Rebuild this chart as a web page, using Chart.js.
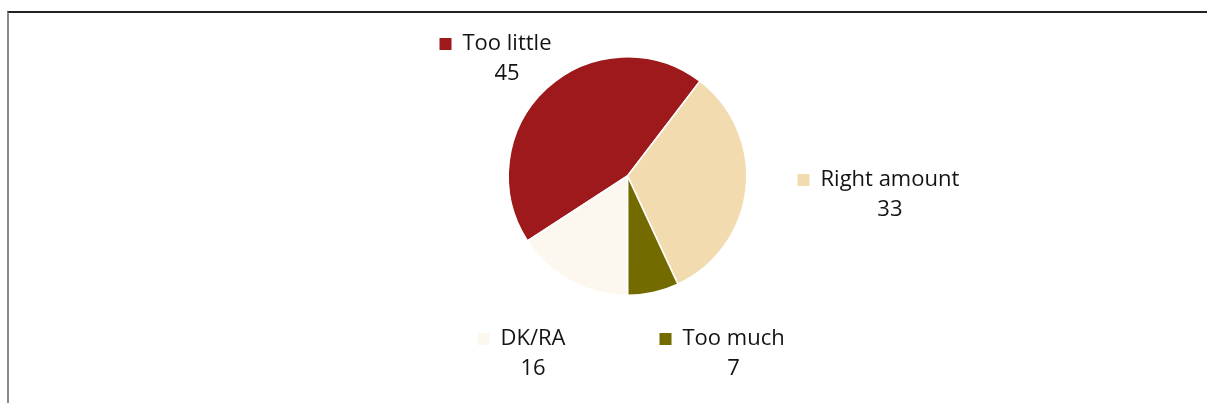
<!DOCTYPE html>
<html>
<head>
<meta charset="utf-8">
<script src="https://cdn.jsdelivr.net/npm/chart.js@4"></script>
<style>
    html, body { margin: 0; padding: 0; background: #fff; }
    #wrap { position: relative; width: 1207px; height: 403px; overflow: hidden; }
    /* khung viền như trong hình gốc */
    #frame { position: absolute; left: 7px; top: 11px; right: -2px; bottom: -2px;
             border-top: 2px solid #222; border-left: 2px solid #8a8a8a; }
    canvas { position: absolute; left: 0; top: 0; }
</style>
</head>
<body>
<div id="wrap">
    <div id="frame"></div>
    <canvas id="pieChart" width="1207" height="403"></canvas>
</div>
<script>
// Dữ liệu biểu đồ
const categories = ['Too little', 'Right amount', 'Too much', 'DK/RA'];
const values = [45, 33, 7, 16];
const colors = ['#9d191c', '#f2dcaf', '#736a00', '#fcf8ef'];

// Vị trí nhãn: điểm bắt đầu chữ, lệch so với tâm hình tròn
const labelOffsets = [
    { dx: -165, dy: -132 },
    { dx: 193, dy: 4 },
    { dx: 55, dy: 163 },
    { dx: -127, dy: 163 }
];

const labelPlugin = {
    id: 'sliceLabels',
    afterDraw(chart) {
        const ctx = chart.ctx;
        const arc = chart.getDatasetMeta(0).data[0];
        const cx = arc.x, cy = arc.y;
        ctx.save();
        ctx.font = '22px "Open Sans"';
        ctx.textBaseline = 'middle';
        categories.forEach((name, i) => {
            const off = labelOffsets[i];
            const x = cx + off.dx, y = cy + off.dy;
            const nameWidth = ctx.measureText(name).width;
            const box = 12;
            // ô màu chú thích
            ctx.fillStyle = colors[i];
            ctx.fillRect(x - 23, y - box / 2, box, box);
            ctx.fillStyle = '#141414';
            ctx.textAlign = 'left';
            ctx.fillText(name, x, y);
            // giá trị
            ctx.textAlign = 'center';
            ctx.fillText(String(values[i]), x + nameWidth / 2, y + 30);
        });
        ctx.restore();
    }
};

const ctx = document.getElementById('pieChart').getContext('2d');
new Chart(ctx, {
    type: 'pie',
    data: {
        labels: categories,
        datasets: [{
            data: values,
            backgroundColor: colors,
            borderColor: '#ffffff',
            borderWidth: 1.5
        }]
    },
    options: {
        responsive: false,
        animation: false,
        devicePixelRatio: 1,
        rotation: 237,
        layout: { padding: { left: 48, right: 0, top: 56, bottom: 107 } },
        plugins: {
            legend: { display: false },
            tooltip: { enabled: false }
        }
    },
    plugins: [labelPlugin]
});
</script>
</body>
</html>
